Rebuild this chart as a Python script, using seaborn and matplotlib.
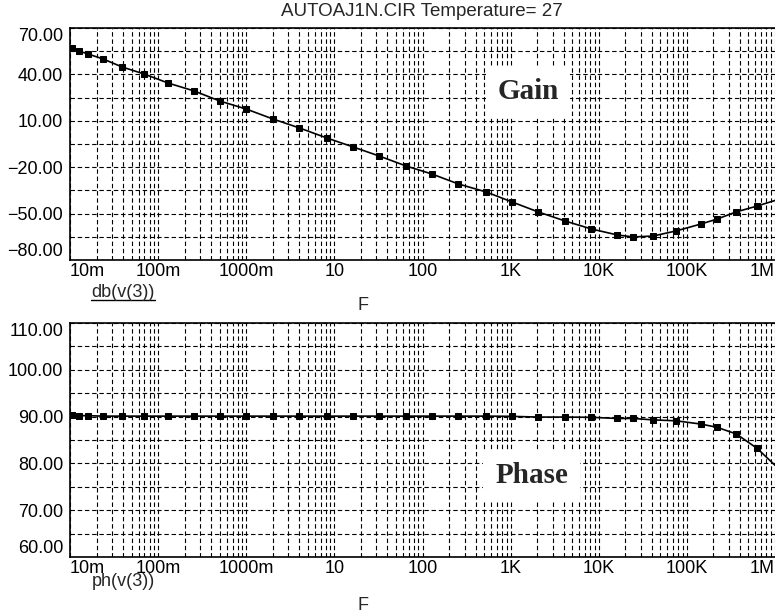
import numpy as np
import pandas as pd
import matplotlib
matplotlib.use('Agg')
import matplotlib.pyplot as plt
from matplotlib.ticker import FixedLocator, LogLocator, NullFormatter
from matplotlib.lines import Line2D
import seaborn as sns

title = 'AUTOAJ1N.CIR Temperature= 27'

# frequency (Hz) of the simulation points that carry a marker
freq = [0.0105, 0.0127, 0.016, 0.0237, 0.039, 0.069, 0.13, 0.256, 0.5, 1.0,
        2.0, 4.0, 8.2, 16.3, 32, 65, 128, 254, 527, 1040,
        2050, 4160, 8200, 16.2e3, 24.6e3, 41.4e3, 75.6e3, 145e3, 221e3, 363e3, 628e3]
gain_db = [57.1, 55.1, 53.2, 50.0, 44.8, 40.3, 34.4, 29.3, 22.8, 17.6,
           11.2, 5.4, -1.1, -6.9, -12.7, -19.2, -24.4, -30.8, -36.0, -42.5,
           -48.9, -54.8, -59.9, -63.8, -65.1, -64.5, -61.2, -56.7, -53.5, -48.9, -45.1]
phase_deg = [90.4, 90.2, 90.2, 90.1, 90.1, 90.1, 90.1, 90.1, 90.1, 90.1,
             90.1, 90.1, 90.1, 90.1, 90.1, 90.1, 90.1, 90.1, 90.1, 90.05,
             89.9, 89.9, 89.85, 89.6, 89.6, 89.3, 89.1, 88.4, 87.7, 86.3, 83.2]

# sweep end points (no marker there)
f_ends = [0.01, 1e6]
gain_ends = [57.5, -41.5]
phase_ends = [90.5, 79.6]

x_ticks = [1e-2, 1e-1, 1, 10, 100, 1e3, 1e4, 1e5, 1e6]
x_labels = ['10m', '100m', '1000m', '10', '100', '1K', '10K', '100K', '1M']
gain_ticks = [-80, -50, -20, 10, 40, 70]
gain_labels = ['\u221280.00', '\u221250.00', '\u221220.00', '10.00', '40.00', '70.00']
phase_ticks = [60, 70, 80, 90, 100, 110]
phase_labels = ['60.00', '70.00', '80.00', '90.00', '100.00', '110.00']

sns.set_theme(style='white')
plt.rcParams['font.family'] = ['Liberation Sans', 'DejaVu Sans']

fig = plt.figure(figsize=(7.75, 6.14), dpi=100)
ax_g = fig.add_axes([70/775, 1-260/614, 705/775, 232/614])
ax_p = fig.add_axes([70/775, 1-557/614, 705/775, 234/614])

grid_ls = (0, (4.0, 2.5))


def curve_frame(vals, ends):
    f = [f_ends[0]] + freq + [f_ends[1]]
    v = [ends[0]] + vals + [ends[1]]
    return pd.DataFrame({'f': f, 'v': v})


def style_axis(ax, ticks, labels):
    ax.set_xscale('log')
    ax.set_xlim(f_ends[0], f_ends[1])
    ax.set_ylim(ticks[0], ticks[-1])
    ax.set_xticks(x_ticks, x_labels)
    ax.xaxis.set_minor_locator(LogLocator(base=10, subs=np.arange(2, 10), numticks=100))
    ax.xaxis.set_minor_formatter(NullFormatter())
    ax.set_yticks(ticks, labels)
    mids = (np.array(ticks[:-1]) + np.array(ticks[1:])) / 2
    ax.yaxis.set_minor_locator(FixedLocator(mids))
    ax.grid(which='both', axis='both', color='black', linestyle=grid_ls, linewidth=0.8)
    ax.tick_params(which='both', length=0, labelsize=13, colors='black')
    ax.tick_params(axis='x', pad=2)
    ax.tick_params(axis='y', pad=5)
    xl = ax.get_xticklabels()
    xl[0].set_ha('left')
    xl[-1].set_ha('right')
    yl = ax.get_yticklabels()
    yl[0].set_va('bottom')
    yl[-1].set_va('top')
    for s in ['top', 'left', 'bottom']:
        ax.spines[s].set_visible(True)
        ax.spines[s].set_color('black')
        ax.spines[s].set_linewidth(1.2)
    ax.spines['right'].set_visible(False)
    ax.set_xlabel('')
    ax.set_ylabel('')


for ax, vals, ends, ticks, labels in [
        (ax_g, gain_db, gain_ends, gain_ticks, gain_labels),
        (ax_p, phase_deg, phase_ends, phase_ticks, phase_labels)]:
    df = curve_frame(vals, ends)
    sns.lineplot(data=df, x='f', y='v', ax=ax, color='black', linewidth=1.2,
                 marker='s', markersize=4.5, markeredgecolor='black',
                 markevery=list(range(1, len(freq) + 1)),
                 estimator=None, sort=False)
    style_axis(ax, ticks, labels)

txt_box = dict(boxstyle='square,pad=0.4', facecolor='white', edgecolor='none')
ax_g.text(0.606, 0.694, 'Gain', transform=ax_g.transAxes, ha='left', va='baseline',
          fontsize=21, fontweight='bold', family='Liberation Serif', bbox=txt_box, zorder=5)
ax_p.text(0.603, 0.316, 'Phase', transform=ax_p.transAxes, ha='left', va='baseline',
          fontsize=21, fontweight='bold', family='Liberation Serif', bbox=txt_box, zorder=5)

fig.text(422/775, 1-12/614, title, ha='center', va='center', fontsize=13.5)
fig.text(91/775, 1-284/614, 'db(v(3))', ha='left', va='top', fontsize=13)
fig.add_artist(Line2D([91/775, 155/775], [1-300/614, 1-300/614], color='black', linewidth=1))
fig.text(92/775, 1-573/614, 'ph(v(3))', ha='left', va='top', fontsize=13)
fig.text(363/775, 1-305/614, 'F', ha='center', va='center', fontsize=13)
fig.text(363/775, 1-606/614, 'F', ha='center', va='center', fontsize=13)

fig.savefig('out.png', dpi=100)
